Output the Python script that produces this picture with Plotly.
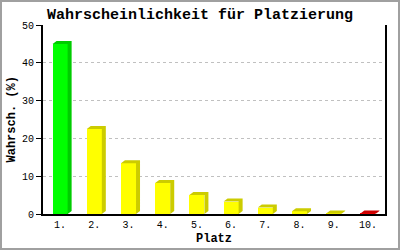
import plotly.graph_objects as go

places = ["1.", "2.", "3.", "4.", "5.", "6.", "7.", "8.", "9.", "10."]
probs = [45.0, 22.5, 13.4, 8.2, 5.0, 3.3, 1.7, 0.7, 0.1, 0.1]
front_colors = ["#00ff00"] + ["#ffff00"] * 8 + ["#ff0000"]
side_colors = ["#00cc00"] + ["#cccc00"] * 8 + ["#cc0000"]
y_ticks = [0, 10, 20, 30, 40, 50]

W, H = 400, 250
L, R, T, B = 43, 15, 25, 36
pw, ph = W - L - R, H - T - B
xmin, xmax = 0.5, len(places) + 0.5
ymin, ymax = 0, 50
bw = 0.44
dx = 4 * (xmax - xmin) / pw
dy = 3 * (ymax - ymin) / ph

xs = list(range(1, len(places) + 1))
fig = go.Figure()

# depth faces (top + side) per bar
groups = {}
for x, v, c in zip(xs, probs, side_colors):
    xl, xr = x - bw / 2, x + bw / 2
    px = [xl, xl + dx, xr + dx, xr + dx, xr, xr, xl, None]
    py = [v, v + dy, v + dy, dy, 0, v, v, None]
    gx, gy = groups.setdefault(c, ([], []))
    gx.extend(px)
    gy.extend(py)
for c, (gx, gy) in groups.items():
    fig.add_trace(go.Scatter(x=gx, y=gy, mode="lines", fill="toself",
                             fillcolor=c, line=dict(width=0, color=c),
                             hoverinfo="skip", showlegend=False))

fig.add_trace(go.Bar(x=xs, y=probs, width=bw, marker=dict(color=front_colors, line=dict(width=0)),
                     showlegend=False))

mono = "Liberation Mono"
fig.update_layout(
    width=W, height=H,
    margin=dict(l=L, r=R, t=T, b=B, autoexpand=False),
    paper_bgcolor="white", plot_bgcolor="white",
    font=dict(family=mono, color="black", size=10),
    title=dict(text="<b>Wahrscheinlichkeit für Platzierung</b>", x=0.5, xanchor="center",
               xref="container", y=1 - 14 / H, yref="container", yanchor="middle",
               font=dict(family=mono, size=15, color="black")),
    xaxis=dict(range=[xmin, xmax], tickvals=xs, ticktext=places, showgrid=False,
               zeroline=False, showline=True, linecolor="black", linewidth=2,
               ticks="", tickfont=dict(family=mono, size=10), automargin=False),
    yaxis=dict(range=[ymin, ymax], tickvals=y_ticks, showgrid=True, gridcolor="#c0c0c0",
               griddash="dot", gridwidth=1, zeroline=False, showline=True, mirror=True,
               linecolor="black", linewidth=2, ticks="outside", ticklen=5, tickcolor="black",
               tickfont=dict(family=mono, size=10), automargin=False),
    bargap=0,
    annotations=[
        dict(text="<b>Platz</b>", xref="paper", yref="paper", x=0.5, y=-(239 - (H - B)) / ph,
             xanchor="center", yanchor="middle", showarrow=False,
             font=dict(family=mono, size=12, color="black")),
        dict(text="<b>Wahrsch. (%)</b>", xref="paper", yref="paper", x=-(L - 11) / pw,
             y=0.5, xanchor="center", yanchor="middle", textangle=-90, showarrow=False,
             font=dict(family=mono, size=12, color="black")),
    ],
)

# outer gray frame
fig.add_shape(type="rect", xref="paper", yref="paper",
              x0=-(L - 1) / pw, x1=1 + (R - 1) / pw, y0=-(B - 1) / ph, y1=1 + (T - 1) / ph,
              line=dict(color="#a0a0a0", width=2), layer="above")

fig.write_html("out.html")
